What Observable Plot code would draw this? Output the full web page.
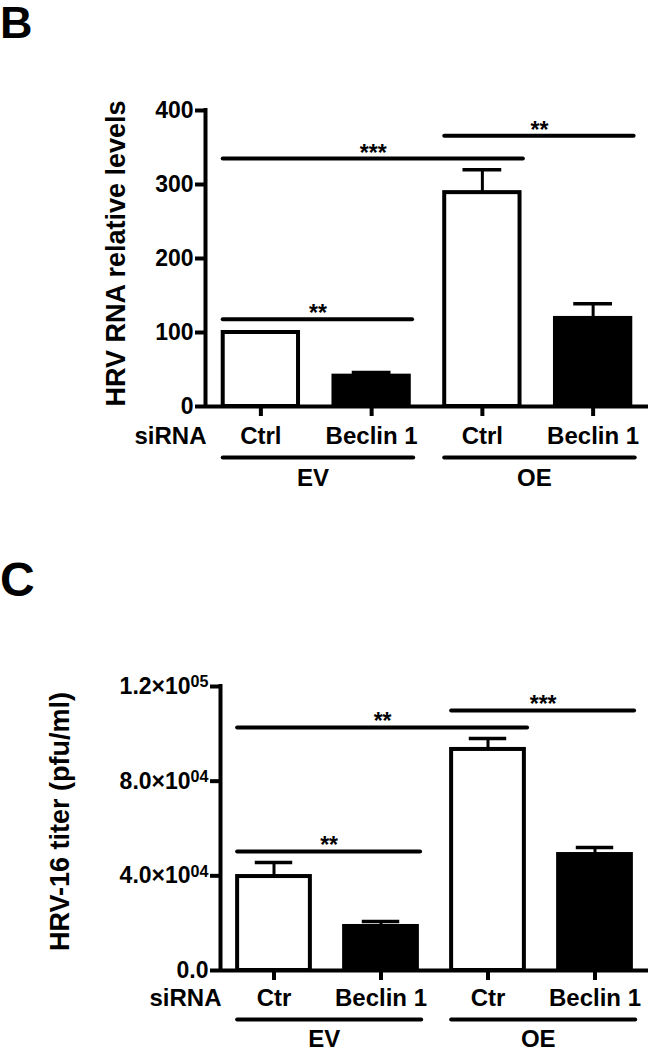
<!DOCTYPE html>
<html>
<head>
<meta charset="utf-8">
<script src="https://cdn.jsdelivr.net/npm/d3@7"></script>
<script src="https://cdn.jsdelivr.net/npm/@observablehq/plot@0.6"></script>
<style>
  body { margin: 0; background: #fff; }
  #wrap { position: relative; width: 648px; height: 1050px; overflow: hidden; background: #fff;
          font-family: "Liberation Sans", Arial, Helvetica, sans-serif; font-weight: bold; color: #000; }
  .letter { position: absolute; left: 0; line-height: 1; font-weight: bold; z-index: 2; }
  .panel { position: absolute; left: 0; z-index: 1; }
</style>
</head>
<body>
<div id="wrap">
  <div class="panel" id="panelB" style="top:0px"></div>
  <div class="panel" id="panelC" style="top:500px"></div>
  <div class="letter" style="top:0px;font-size:45px">B</div>
  <div class="letter" style="top:556px;font-size:48px">C</div>
</div>
<script>
// ---------------- data ----------------
const vectorGroups = ["EV", "EV", "OE", "OE"];
const siRNALabelsB = ["Ctrl", "Beclin 1", "Ctrl", "Beclin 1"];
const siRNALabelsC = ["Ctr", "Beclin 1", "Ctr", "Beclin 1"];

// Panel B: HRV RNA relative levels (mean, SEM)
const rnaMean = [100, 41, 289, 119];
const rnaSem  = [0, 5, 31, 20];
const yTicksB = [0, 100, 200, 300, 400];
const yTickLabelsB = ["0", "100", "200", "300", "400"];

// Panel C: HRV-16 titer (pfu/ml) (mean, SEM)
const titerMean = [39700, 18600, 93400, 49000];
const titerSem  = [5900, 2100, 4600, 3000];
const yTicksC = [0, 40000, 80000, 120000];
const yTickLabelsC = ["0.0", "4.0×10^04", "8.0×10^04", "1.2×10^05"];

// Group brackets under the axis
const groupNames = ["EV", "OE"];
const groupFirst = [0, 2];
const groupLast  = [1, 3];

// Significance brackets
const sigFromB = [0, 0, 2];
const sigToB   = [1, 2, 3];
const sigYB    = [118, 335, 366];
const sigTextB = ["**", "***", "**"];

const sigFromC = [0, 0, 2];
const sigToC   = [1, 2, 3];
const sigYC    = [50300, 102700, 109900];
const sigTextC = ["**", "**", "***"];

// ---------------- helpers ----------------
const xDomain = [-0.5, 3.5];
const FONT = '"Liberation Sans", Arial, Helvetica, sans-serif';

function makePanel(cfg) {
  const rows = cfg.mean.map((m, i) => ({i, mean: m, sem: cfg.sem[i], siRNA: cfg.siRNA[i], group: vectorGroups[i]}));
  const withErr = rows.filter(d => d.sem > 0);
  const groups = groupNames.map((g, k) => ({name: g, first: groupFirst[k], last: groupLast[k]}));
  const sigs = cfg.sigFrom.map((f, k) => ({from: f, to: cfg.sigTo[k], y: cfg.sigY[k], label: cfg.sigText[k]}));
  const tickLabel = new Map(cfg.yTicks.map((t, k) => [t, cfg.yTickLabels[k]]));
  const barHalf = 0.34, capHalf = 0.175;

  const svg = Plot.plot({
    width: 648,
    height: cfg.height,
    marginLeft: cfg.marginLeft,
    marginRight: 0,
    marginTop: cfg.marginTop,
    marginBottom: cfg.marginBottom,
    x: {type: "linear", domain: xDomain, axis: null},
    y: {domain: [0, cfg.yMax], axis: null},
    style: {fontFamily: FONT, fontWeight: "bold", color: "black", background: "white", overflow: "visible"},
    marks: [
      // bars
      Plot.rectY(rows, {
        x1: d => d.i - barHalf, x2: d => d.i + barHalf, y1: 0, y2: "mean",
        fill: d => d.siRNA === "Beclin 1" ? "black" : "white",
        stroke: "black", strokeWidth: 4
      }),
      // error bars
      Plot.ruleX(withErr, {x: "i", y1: "mean", y2: d => d.mean + d.sem, strokeWidth: 3}),
      Plot.ruleY(withErr, {y: d => d.mean + d.sem, x1: d => d.i - capHalf, x2: d => d.i + capHalf, strokeWidth: 3.5}),
      // axis lines
      Plot.ruleY([0], {strokeWidth: 4}),
      Plot.ruleX([xDomain[0]], {y1: 0, y2: cfg.yMax, strokeWidth: 4, strokeLinecap: "square"}),
      // axes
      Plot.axisY({
        ticks: cfg.yTicks, tickSize: 10, tickPadding: 2, strokeWidth: 4,
        tickFormat: t => tickLabel.get(t), fontSize: cfg.yTickFont, label: null
      }),
      Plot.axisX({
        ticks: [0, 1, 2, 3], tickSize: 10, tickPadding: cfg.xTickPad, strokeWidth: 4,
        tickFormat: i => cfg.siRNA[i], fontSize: 24, label: null
      }),
      Plot.text(["siRNA"], {
        text: d => d, frameAnchor: "bottom-left", textAnchor: "end", lineAnchor: "top",
        dy: 10 + cfg.xTickPad, dx: 1, fontSize: 24
      }),
      // group brackets
      Plot.ruleY(groups, {y: 0, x1: d => d.first - 0.34, x2: d => d.last + 0.38, dy: cfg.groupLineDy, strokeWidth: 4, strokeLinecap: "round"}),
      Plot.text(groups, {x: d => (d.first + d.last) / 2 - 0.03, y: 0, text: "name", dy: cfg.groupTextDy, lineAnchor: "middle", fontSize: 24}),
      // significance brackets
      Plot.ruleY(sigs, {y: "y", x1: d => d.from - 0.34, x2: d => d.to + 0.37, strokeWidth: 4, strokeLinecap: "round"}),
      Plot.text(sigs, {x: d => (d.from - 0.34 + d.to + 0.37) / 2, y: "y", text: "label", lineAnchor: "bottom", dy: 2, fontSize: 23}),
      // y-axis title
      Plot.text([cfg.title], {
        text: d => d, frameAnchor: "left", textAnchor: "middle", lineAnchor: "middle", rotate: -90,
        dx: cfg.titleDx, dy: cfg.titleDy, fontSize: cfg.titleFont
      })
    ]
  });

  // superscript exponents on tick labels like "1.2×10^05"
  svg.querySelectorAll("text").forEach(t => {
    const s = t.textContent;
    if (s.includes("^") && t.children.length === 0) {
      const [m, e] = s.split("^");
      t.textContent = m;
      const ts = document.createElementNS("http://www.w3.org/2000/svg", "tspan");
      ts.setAttribute("dy", "-0.4em");
      ts.setAttribute("font-size", "0.7em");
      ts.textContent = e;
      t.appendChild(ts);
    }
  });
  return svg;
}

document.getElementById("panelB").appendChild(makePanel({
  mean: rnaMean, sem: rnaSem, siRNA: siRNALabelsB,
  yTicks: yTicksB, yTickLabels: yTickLabelsB, yMax: 400, yTickFont: 23,
  sigFrom: sigFromB, sigTo: sigToB, sigY: sigYB, sigText: sigTextB,
  height: 500, marginLeft: 205, marginTop: 110, marginBottom: 94,
  xTickPad: 10, groupLineDy: 51, groupTextDy: 72,
  title: "HRV RNA relative levels", titleDx: -89, titleDy: -5, titleFont: 27
}));

document.getElementById("panelC").appendChild(makePanel({
  mean: titerMean, sem: titerSem, siRNA: siRNALabelsC,
  yTicks: yTicksC, yTickLabels: yTickLabelsC, yMax: 120000, yTickFont: 23,
  sigFrom: sigFromC, sigTo: sigToC, sigY: sigYC, sigText: sigTextC,
  height: 550, marginLeft: 220, marginTop: 186, marginBottom: 80,
  xTickPad: 8, groupLineDy: 49, groupTextDy: 69,
  title: "HRV-16 titer (pfu/ml)", titleDx: -160, titleDy: -7, titleFont: 27
}));
</script>
</body>
</html>
